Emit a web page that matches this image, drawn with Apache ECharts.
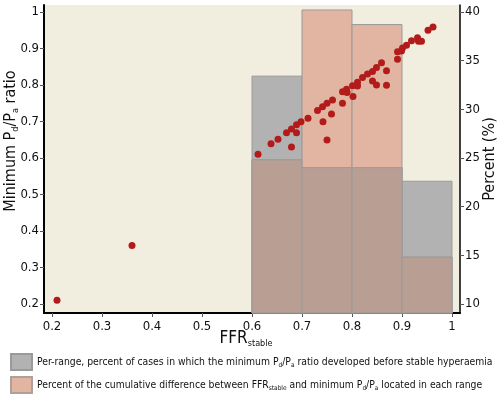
<!DOCTYPE html>
<html>
<head>
<meta charset="utf-8">
<script src="https://cdn.jsdelivr.net/npm/echarts@6/dist/echarts.min.js"></script>
<style>
  html, body { margin: 0; padding: 0; background: #fff; }
  #chart { width: 502px; height: 402px; }
</style>
</head>
<body>
<div id="chart"></div>
<script>
// FFR_stable vs minimum Pd/Pa (scatter)
const ffrStable = [0.21, 0.36, 0.612, 0.638, 0.652, 0.669, 0.679, 0.679, 0.689, 0.689, 0.698, 0.712, 0.731, 0.741, 0.742, 0.750, 0.750, 0.759, 0.761, 0.781, 0.781, 0.789, 0.790, 0.802, 0.801, 0.811, 0.811, 0.821, 0.831, 0.841, 0.841, 0.849, 0.849, 0.859, 0.869, 0.869, 0.891, 0.891, 0.899, 0.901, 0.909, 0.919, 0.931, 0.933, 0.939, 0.952, 0.962];
const minPdPa   = [0.21, 0.36, 0.610, 0.639, 0.651, 0.669, 0.679, 0.630, 0.691, 0.669, 0.699, 0.709, 0.730, 0.740, 0.699, 0.750, 0.649, 0.720, 0.759, 0.750, 0.781, 0.788, 0.779, 0.768, 0.798, 0.797, 0.807, 0.820, 0.830, 0.811, 0.837, 0.800, 0.848, 0.861, 0.839, 0.799, 0.870, 0.891, 0.893, 0.901, 0.909, 0.921, 0.929, 0.920, 0.920, 0.950, 0.959];

// per-range bars (right axis, percent)
const binStart = [0.6, 0.7, 0.8, 0.9];
const binEnd   = [0.7, 0.8, 0.9, 1.0];
const pctBeforeStable = [33.4, 24.0, 24.0, 22.6];
const pctCumDiff      = [24.8, 40.2, 38.7, 14.8];

const xTicks = [0.2, 0.3, 0.4, 0.5, 0.6, 0.7, 0.8, 0.9, 1];
const leftTicks = [0.2, 0.3, 0.4, 0.5, 0.6, 0.7, 0.8, 0.9, 1];
const rightTicks = [10, 15, 20, 25, 30, 35, 40];

const nameA = 'Per-range, percent of cases in which the minimum Pd/Pa ratio developed before stable hyperaemia';
const nameB = 'Percent of the cumulative difference between FFRstable and minimum Pd/Pa located in each range';

const FONT = "'Liberation Sans Narrow', 'DejaVu Sans Condensed', sans-serif";
const percentMin = 9.06;

const scatterData = ffrStable.map((x, i) => [x, minPdPa[i]]);
const barsA = binStart.map((s, i) => [s, binEnd[i], pctBeforeStable[i]]);
const barsB = binStart.map((s, i) => [s, binEnd[i], pctCumDiff[i]]);
const barsOverlap = binStart.map((s, i) => [s, binEnd[i], Math.min(pctBeforeStable[i], pctCumDiff[i])]);

const rectRender = (fill) => (params, api) => {
    const p0 = api.coord([api.value(0), percentMin]);
    const p1 = api.coord([api.value(1), api.value(2)]);
    return {
        type: 'rect',
        shape: { x: p0[0], y: p1[1], width: p1[0] - p0[0], height: p0[1] - p1[1] },
        style: { fill: fill, stroke: '#9a9a9a', lineWidth: 1 },
    };
};

const subRich = {
    n: { fontFamily: FONT, fontSize: 16, color: '#111' },
    s: { fontFamily: FONT, fontSize: 9, color: '#111', padding: [9, 0, 0, 0] },
};

const legendText = {
    fontFamily: FONT, fontSize: 10.3, color: '#111',
    rich: { ls: { fontFamily: FONT, fontSize: 6.5, color: '#111', padding: [6, 0, 0, 0] } },
};

const axisCommon = {
    axisLabel: { fontFamily: FONT, fontSize: 13, color: '#111' },
    axisTick: { show: true, length: 4, lineStyle: { color: '#555' } },
    splitLine: { show: false },
    nameMoveOverlap: false,
};

const chart = echarts.init(document.getElementById('chart'));
chart.setOption({
    animation: false,
    grid: {
        left: 44, right: 42, top: 5, bottom: 89,
        outerBoundsMode: 'none',
        show: true, backgroundColor: '#f2eedf', borderWidth: 0,
    },
    legend: [
        {
            left: 10, top: 353, padding: 0, icon: 'rect',
            itemWidth: 21, itemHeight: 16, itemGap: 5,
            data: [nameA],
            formatter: () => 'Per-range, percent of cases in which the minimum P{ls|d}/P{ls|a} ratio developed before stable hyperaemia',
            textStyle: legendText,
        },
        {
            left: 10, top: 376, padding: 0, icon: 'rect',
            itemWidth: 21, itemHeight: 16, itemGap: 5,
            data: [nameB],
            formatter: () => 'Percent of the cumulative difference between FFR{ls|stable} and minimum P{ls|d}/P{ls|a} located in each range',
            textStyle: legendText,
        },
    ],
    xAxis: {
        type: 'value', min: 0.184, max: 1.016,
        name: '{n|FFR}{s|stable}', nameLocation: 'middle', nameGap: 17,
        nameTextStyle: { rich: { n: { ...subRich.n, fontSize: 17 }, s: subRich.s }, padding: [0, 12, 0, 0] },
        axisLine: { onZero: false, lineStyle: { color: '#000', width: 2 } },
        ...axisCommon,
        axisLabel: { ...axisCommon.axisLabel, customValues: xTicks, margin: 7 },
        axisTick: { ...axisCommon.axisTick, customValues: xTicks },
    },
    yAxis: [
        {
            type: 'value', min: 0.175, max: 1.019, position: 'left',
            name: '{n|Minimum P}{s|d}{n|/P}{s|a}{n| ratio}', nameLocation: 'middle', nameGap: 24, nameRotate: 90,
            nameTextStyle: { rich: subRich, padding: [0, 0, 0, 36] },
            axisLine: { show: true, onZero: false, lineStyle: { color: '#000', width: 2 } },
            ...axisCommon,
            axisLabel: { ...axisCommon.axisLabel, customValues: leftTicks, margin: 5 },
            axisTick: { ...axisCommon.axisTick, customValues: leftTicks },
        },
        {
            type: 'value', min: percentMin, max: 40.71, position: 'right',
            name: '{n|Percent (%)}', nameLocation: 'middle', nameGap: 22, nameRotate: 90,
            nameTextStyle: { rich: subRich },
            axisLine: { show: true, onZero: false, lineStyle: { color: '#000', width: 1.5 } },
            ...axisCommon,
            axisLabel: { ...axisCommon.axisLabel, customValues: rightTicks, margin: 5 },
            axisTick: { ...axisCommon.axisTick, customValues: rightTicks },
        },
    ],
    series: [
        {
            name: nameA, type: 'custom', yAxisIndex: 1, z: 1,
            data: barsA, renderItem: rectRender('#b2b2b2'),
            itemStyle: { color: '#b2b2b2', borderColor: '#9a9a9a', borderWidth: 1 },
        },
        {
            name: nameB, type: 'custom', yAxisIndex: 1, z: 2,
            data: barsB, renderItem: rectRender('#e1b5a1'),
            itemStyle: { color: '#e1b5a1', borderColor: '#b0a09a', borderWidth: 1 },
        },
        {
            name: 'overlap', type: 'custom', yAxisIndex: 1, z: 3,
            data: barsOverlap, renderItem: rectRender('#b99e93'),
        },
        {
            name: 'points', type: 'scatter', yAxisIndex: 0, z: 5,
            data: scatterData, symbolSize: 7,
            itemStyle: { color: '#b31b1b', opacity: 1 },
        },
    ],
});
</script>
</body>
</html>
